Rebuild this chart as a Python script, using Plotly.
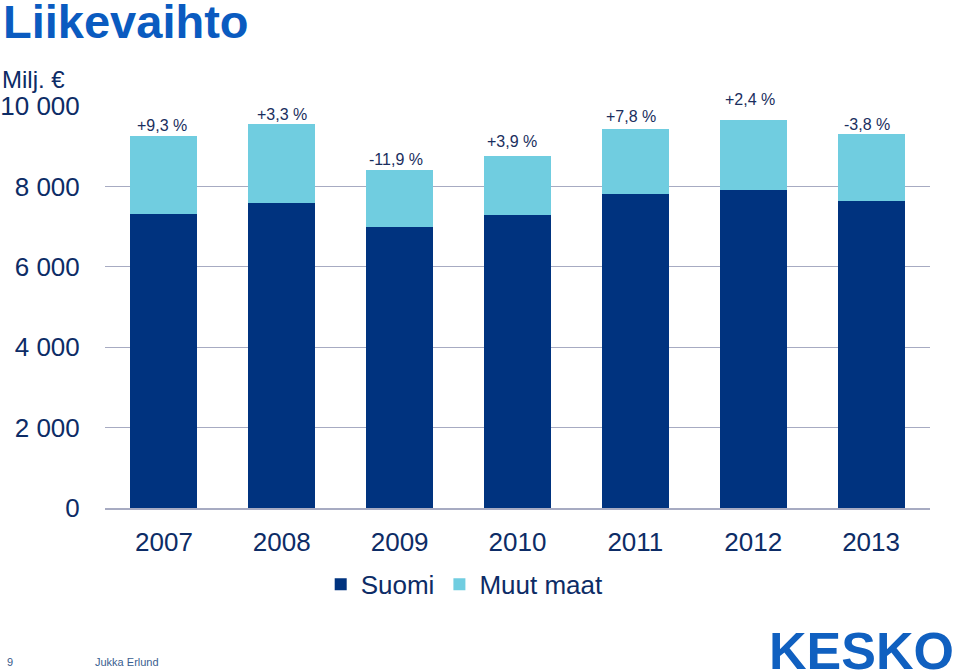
import plotly.graph_objects as go

years = ["2007", "2008", "2009", "2010", "2011", "2012", "2013"]
suomi = [7310, 7580, 6990, 7280, 7820, 7900, 7630]
muut_maat = [1950, 1980, 1430, 1470, 1620, 1760, 1670]
change_labels = ["+9,3 %", "+3,3 %", "-11,9 %", "+3,9 %", "+7,8 %", "+2,4 %", "-3,8 %"]
y_tick_vals = [0, 2000, 4000, 6000, 8000, 10000]
y_tick_text = ["0", "2 000", "4 000", "6 000", "8 000", "10 000"]

# label offsets (style only)
label_yshift = [10, 9, 10, 15, 12, 20, 10]
label_xshift = [-2, 0, -4, -6, -4, -3, -4]

NAVY = "#00337F"
LIGHT = "#70CDE0"
TEXT = "#0D2C66"
GRID = "#A7ABC2"
FONT = "Liberation Sans, Arial, sans-serif"

fig = go.Figure()
fig.add_trace(go.Bar(x=years, y=suomi, name="Suomi", marker_color=NAVY,
                     marker_line_width=0, width=0.568))
fig.add_trace(go.Bar(x=years, y=muut_maat, name="Muut maat", marker_color=LIGHT,
                     marker_line_width=0, width=0.568))

totals = [a + b for a, b in zip(suomi, muut_maat)]
for i, (tot, lab, ys, xs) in enumerate(zip(totals, change_labels, label_yshift, label_xshift)):
    fig.add_annotation(x=i, y=tot, xref="x", yref="y", text=lab, showarrow=False,
                       yanchor="middle", yshift=ys, xshift=xs,
                       font=dict(size=16, color="#1A2E5E", family=FONT))

# Title and other texts
fig.add_annotation(xref="paper", yref="paper", x=-0.1255, y=1.209, xanchor="left",
                   yanchor="middle", text="<b>Liikevaihto</b>", showarrow=False,
                   font=dict(size=47, color="#0A5BC0", family=FONT))
fig.add_annotation(xref="paper", yref="paper", x=-0.1273, y=1.0647, xanchor="left",
                   yanchor="middle", text="Milj. €", showarrow=False,
                   font=dict(size=24, color=TEXT, family=FONT))
fig.add_annotation(xref="paper", yref="paper", x=-0.115, y=-0.383, xanchor="center",
                   yanchor="middle", text="9", showarrow=False,
                   font=dict(size=11, color="#3A5A8A", family=FONT))
fig.add_annotation(xref="paper", yref="paper", x=-0.0146, y=-0.383, xanchor="left",
                   yanchor="middle", text="Jukka Erlund", showarrow=False,
                   font=dict(size=11, color="#3A6090", family=FONT))
fig.add_annotation(xref="paper", yref="paper", x=1.0315, y=-0.355, xanchor="right",
                   yanchor="middle", text="<b>KESKO</b>", showarrow=False,
                   font=dict(size=52, color="#1060C0", family=FONT))

fig.update_layout(
    barmode="stack",
    width=960, height=671,
    margin=dict(l=105, r=30, t=106, b=163, autoexpand=False),
    paper_bgcolor="white", plot_bgcolor="white",
    font=dict(family=FONT, color=TEXT),
    showlegend=True,
    legend=dict(orientation="h", xref="paper", yref="paper", x=0.436, y=-0.19,
                xanchor="center", yanchor="middle",
                font=dict(size=26, color=TEXT, family=FONT),
                itemwidth=30, traceorder="normal"),
    xaxis=dict(type="category", range=[-0.5, 6.5], showgrid=False, automargin=False,
               showline=True, linecolor=GRID, linewidth=1.5,
               ticks="outside", ticklen=10, tickcolor="rgba(0,0,0,0)",
               tickfont=dict(size=26, color=TEXT, family=FONT)),
    yaxis=dict(range=[0, 10000], tickvals=y_tick_vals, ticktext=y_tick_text,
               showgrid=True, gridcolor=GRID, gridwidth=1, zeroline=False,
               automargin=False,
               ticks="outside", ticklen=19, tickcolor="rgba(0,0,0,0)",
               tickfont=dict(size=26, color=TEXT, family=FONT)),
)

fig.write_html("out.html", config={"displayModeBar": False},
               post_script="document.body.style.margin='0';document.body.style.overflow='hidden';")
